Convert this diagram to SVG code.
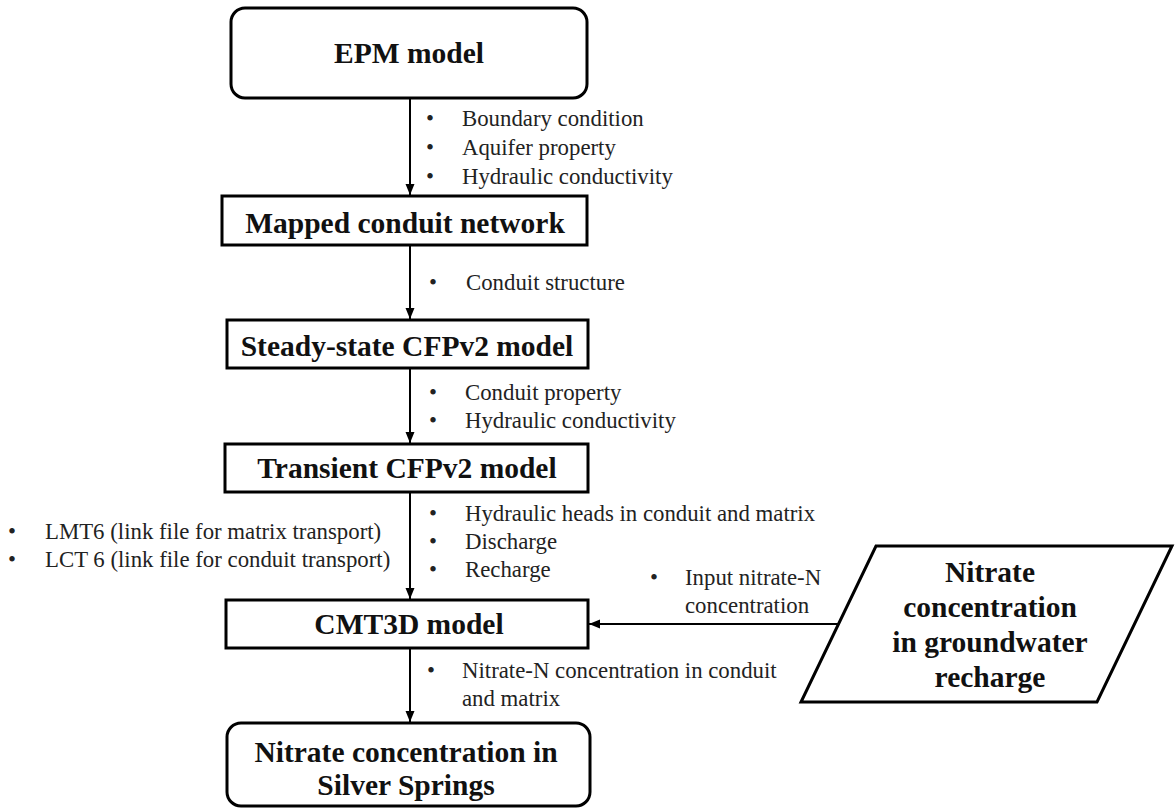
<svg xmlns="http://www.w3.org/2000/svg" width="1176" height="809" viewBox="0 0 1176 809">
<defs>
<style>
.box{fill:#fff;stroke:#000;stroke-width:3}
.title{font-family:"Liberation Serif","Times New Roman",serif;font-weight:bold;font-size:29.5px;fill:#111;text-anchor:middle}
.lbl{font-family:"Liberation Serif","Times New Roman",serif;font-size:22.8px;fill:#222}
.conn{stroke:#000;stroke-width:2;fill:none;marker-end:url(#ah)}
</style>
<marker id="ah" markerUnits="userSpaceOnUse" markerWidth="12" markerHeight="12" viewBox="0 0 12 12" refX="11" refY="6" orient="auto">
<path d="M0,1.5 L11,6 L0,10.5 Z" fill="#000"/>
</marker>
</defs>
<rect width="1176" height="809" fill="#fff"/>

<g id="connectors">
<line class="conn" x1="410" y1="98" x2="410" y2="195"/>
<line class="conn" x1="410" y1="246" x2="410" y2="319"/>
<line class="conn" x1="410" y1="369" x2="410" y2="443"/>
<line class="conn" x1="410" y1="493" x2="410" y2="599"/>
<line class="conn" x1="410" y1="649" x2="410" y2="722"/>
<line class="conn" x1="838" y1="624" x2="589" y2="624"/>
</g>

<g id="labels">
<text class="lbl" x="426" y="126">•</text><text class="lbl" x="462" y="126">Boundary condition</text>
<text class="lbl" x="426" y="155">•</text><text class="lbl" x="462" y="155">Aquifer property</text>
<text class="lbl" x="426" y="184">•</text><text class="lbl" x="462" y="184">Hydraulic conductivity</text>

<text class="lbl" x="429" y="290">•</text><text class="lbl" x="466" y="290">Conduit structure</text>

<text class="lbl" x="429" y="400">•</text><text class="lbl" x="465" y="400">Conduit property</text>
<text class="lbl" x="429" y="428">•</text><text class="lbl" x="465" y="428">Hydraulic conductivity</text>

<text class="lbl" x="429" y="521">•</text><text class="lbl" x="465" y="521">Hydraulic heads in conduit and matrix</text>
<text class="lbl" x="429" y="549">•</text><text class="lbl" x="465" y="549">Discharge</text>
<text class="lbl" x="429" y="577">•</text><text class="lbl" x="465" y="577">Recharge</text>

<text class="lbl" x="8" y="539">•</text><text class="lbl" x="45" y="539">LMT6 (link file for matrix transport)</text>
<text class="lbl" x="8" y="567">•</text><text class="lbl" x="45" y="567">LCT 6 (link file for conduit transport)</text>

<text class="lbl" x="650" y="585">•</text><text class="lbl" x="685" y="585">Input nitrate-N</text>
<text class="lbl" x="685" y="613">concentration</text>

<text class="lbl" x="427" y="678">•</text><text class="lbl" x="462" y="678">Nitrate-N concentration in conduit</text>
<text class="lbl" x="462" y="706">and matrix</text>
</g>

<g id="epm">
<rect class="box" x="231" y="8" width="356" height="90" rx="14"/>
<text class="title" x="409" y="63">EPM model</text>
</g>
<g id="mapped">
<rect class="box" x="222" y="196" width="365" height="49"/>
<text class="title" x="405" y="233">Mapped conduit network</text>
</g>
<g id="steady">
<rect class="box" x="227" y="320" width="361" height="48"/>
<text class="title" x="407" y="356">Steady-state CFPv2 model</text>
</g>
<g id="transient">
<rect class="box" x="225" y="444" width="363" height="48"/>
<text class="title" x="407" y="478">Transient CFPv2 model</text>
</g>
<g id="cmt3d">
<rect class="box" x="226" y="600" width="362" height="48"/>
<text class="title" x="409" y="634">CMT3D model</text>
</g>
<g id="silver">
<rect class="box" x="227" y="723" width="363" height="83" rx="14"/>
<text class="title" x="406" y="762">Nitrate concentration in</text>
<text class="title" x="406" y="795">Silver Springs</text>
</g>
<g id="recharge">
<polygon class="box" points="876,546 1172,546 1097,702 801,702"/>
<text class="title" x="990" y="582">Nitrate</text>
<text class="title" x="990" y="617">concentration</text>
<text class="title" x="990" y="652">in groundwater</text>
<text class="title" x="990" y="687">recharge</text>
</g>
</svg>
